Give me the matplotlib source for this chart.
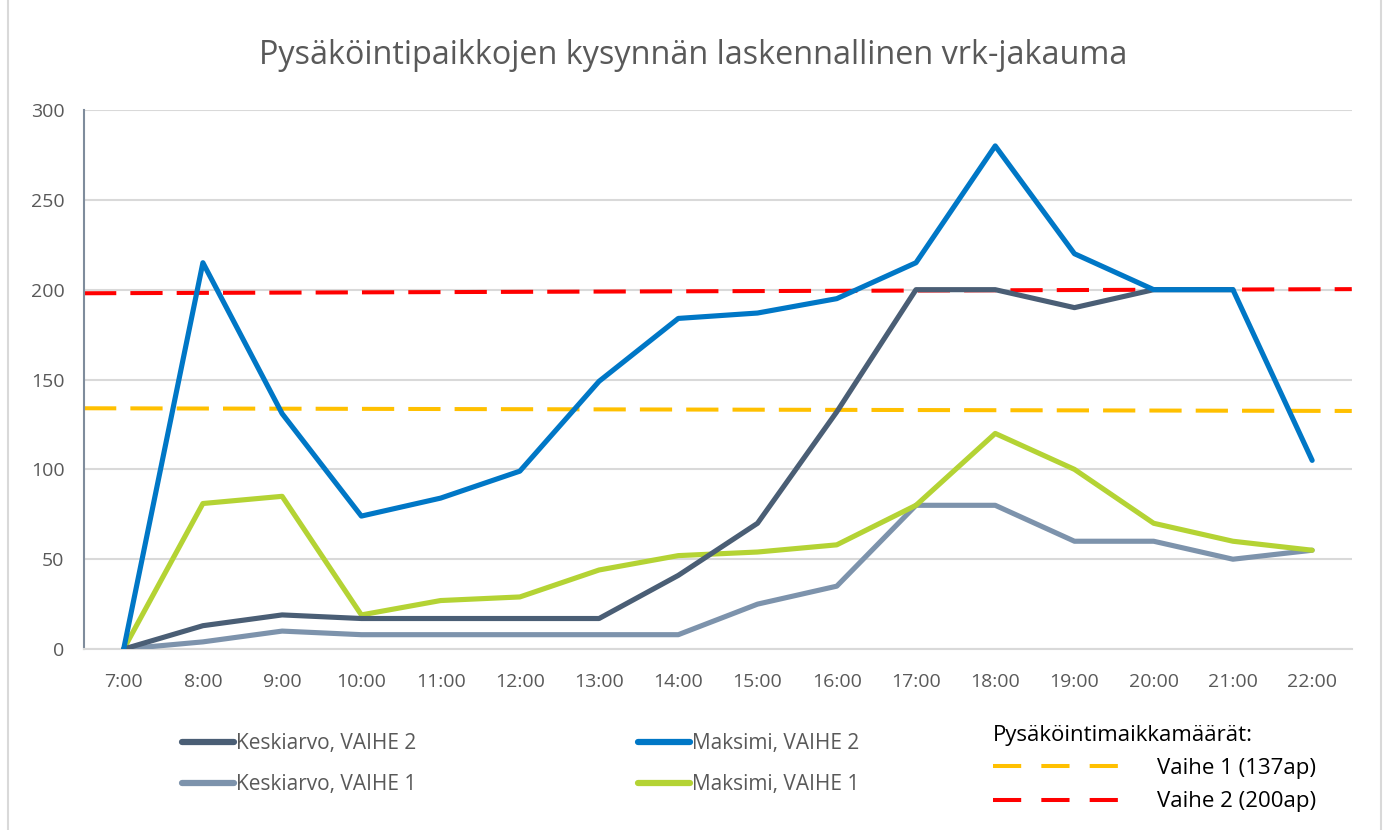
import matplotlib
matplotlib.use('Agg')
import matplotlib.pyplot as plt
from matplotlib.lines import Line2D
from matplotlib.patches import Rectangle
import numpy as np

plt.rcParams['font.family'] = ['Open Sans', 'DejaVu Sans']

# data
hours = ['7:00', '8:00', '9:00', '10:00', '11:00', '12:00', '13:00', '14:00',
         '15:00', '16:00', '17:00', '18:00', '19:00', '20:00', '21:00', '22:00']
keskiarvo_v2 = [0, 13, 19, 17, 17, 17, 17, 41, 70, 132, 200, 200, 190, 200, 200, np.nan]
maksimi_v2 = [0, 215, 131, 74, 84, 99, 149, 184, 187, 195, 215, 280, 220, 200, 200, 105]
keskiarvo_v1 = [0, 4, 10, 8, 8, 8, 8, 8, 25, 35, 80, 80, 60, 60, 50, 55]
maksimi_v1 = [0, 81, 85, 19, 27, 29, 44, 52, 54, 58, 80, 120, 100, 70, 60, 55]

# parking capacity reference lines (drawn edge to edge of the plot area)
limit_x = [-0.5, 15.5]
vaihe1_limit = [134, 132.5]
vaihe2_limit = [198, 200.3]

c_dark = '#4A5E75'
c_blue = '#0077C6'
c_grey = '#7D93AC'
c_green = '#B4D334'
c_yellow = '#FFC000'
c_red = '#FF0000'
txt = '#595959'

fig = plt.figure(figsize=(13.87, 8.30), dpi=100)
ax = fig.add_axes([0.0606, 0.218, 0.914, 0.6495])

x = np.arange(len(hours))

ax.plot(limit_x, vaihe1_limit, color=c_yellow, lw=2.9, dashes=(8, 3.5), zorder=2)
ax.plot(limit_x, vaihe2_limit, color=c_red, lw=2.9, dashes=(8, 3.5), zorder=2)

ax.plot(x, keskiarvo_v1, color=c_grey, lw=3.7, solid_capstyle='round', zorder=3)
ax.plot(x, maksimi_v1, color=c_green, lw=3.7, solid_capstyle='round', zorder=4)
ax.plot(x, keskiarvo_v2, color=c_dark, lw=3.7, solid_capstyle='round', zorder=5)
ax.plot(x, maksimi_v2, color=c_blue, lw=3.7, solid_capstyle='round', zorder=6)

ax.set_xlim(-0.5, 15.5)
ax.set_ylim(0, 300)
ax.set_yticks(range(0, 301, 50))
ax.set_xticks(x)
ax.set_xticklabels(hours)
ax.tick_params(axis='both', length=0, labelsize=14, labelcolor=txt)
ax.tick_params(axis='x', pad=17)
ax.tick_params(axis='y', pad=14)
ax.grid(axis='y', color='#D9D9D9', lw=1.5)
ax.set_axisbelow(True)
for s in ['top', 'right']:
    ax.spines[s].set_visible(False)
ax.spines['bottom'].set_color('#D9D9D9')
ax.spines['bottom'].set_linewidth(1.5)
ax.spines['left'].set_color('#7F8C9C')
ax.spines['left'].set_linewidth(1.5)

fig.text(0.5, 1 - 56 / 830, 'Pysäköintipaikkojen kysynnän laskennallinen vrk-jakauma',
         ha='center', va='center', fontsize=23.3, color=txt)

# legends
def series_legend(handles, labels, x0):
    leg = fig.legend(handles, labels, loc='upper left', bbox_to_anchor=(x0, 1 - 733 / 830),
                     frameon=False, fontsize=15, handlelength=2.5, handletextpad=0.08,
                     labelspacing=0.95, borderpad=0, borderaxespad=0)
    for t in leg.get_texts():
        t.set_color(txt)
    return leg

h_k2 = Line2D([], [], color=c_dark, lw=4.5, solid_capstyle='round')
h_k1 = Line2D([], [], color=c_grey, lw=4.5, solid_capstyle='round')
h_m2 = Line2D([], [], color=c_blue, lw=4.5, solid_capstyle='round')
h_m1 = Line2D([], [], color=c_green, lw=4.5, solid_capstyle='round')
leg1 = series_legend([h_k2, h_k1], ['Keskiarvo, VAIHE 2', 'Keskiarvo, VAIHE 1'], 182 / 1387)
leg2 = series_legend([h_m2, h_m1], ['Maksimi, VAIHE 2', 'Maksimi, VAIHE 1'], 638 / 1387)

h_y = Line2D([], [], color=c_yellow, lw=2.9, dashes=(7, 5))
h_r = Line2D([], [], color=c_red, lw=2.9, dashes=(7, 5))
leg3 = fig.legend([h_y, h_r], ['Vaihe 1 (137ap)', 'Vaihe 2 (200ap)'], loc='upper left',
                  bbox_to_anchor=(993 / 1387, 1 - 725 / 830), frameon=False, fontsize=16,
                  title='Pysäköintimaikkamäärät:', title_fontsize=16, alignment='left',
                  handlelength=5.8, handletextpad=1.6, labelspacing=0.55, borderpad=0,
                  borderaxespad=0)
for t in leg3.get_texts():
    t.set_color('black')

fig.patches.append(Rectangle((0.006, -0.01), 0.99, 1.02, transform=fig.transFigure,
                             fill=False, edgecolor='#D9D9D9', lw=1.5))

fig.savefig('out.png', dpi=100)
